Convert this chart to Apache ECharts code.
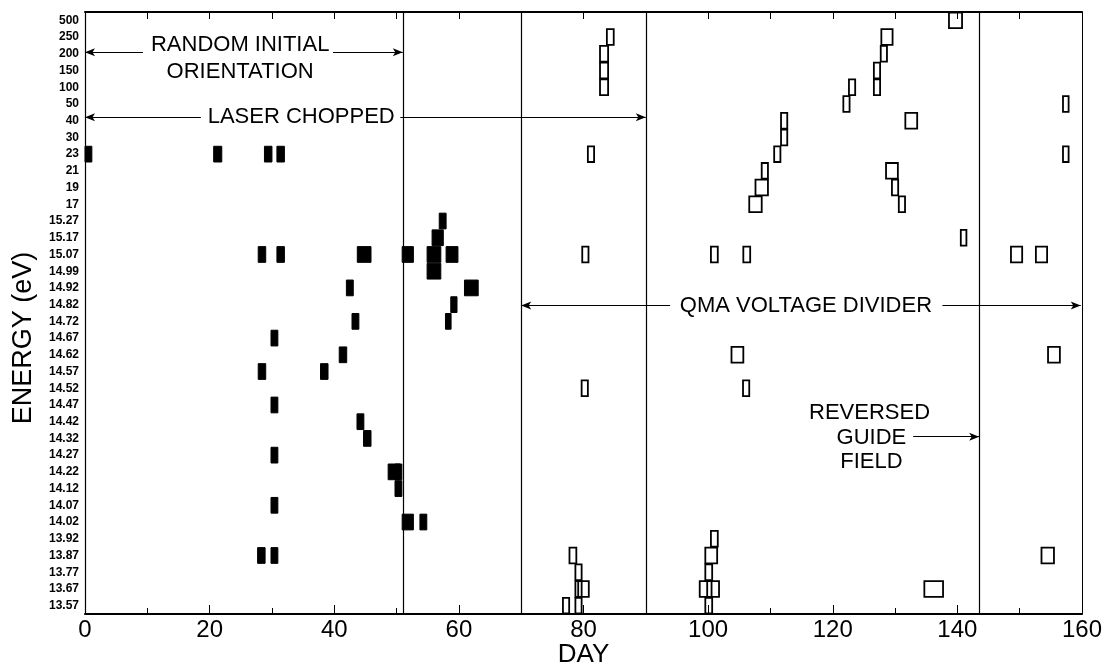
<!DOCTYPE html>
<html>
<head>
<meta charset="utf-8">
<title>Energy vs Day</title>
<script src="https://cdn.jsdelivr.net/npm/echarts@6/dist/echarts.min.js"></script>
<style>
  html, body { margin: 0; padding: 0; background: #fff; }
  #main { width: 1106px; height: 665px; }
</style>
</head>
<body>
<div id="main"></div>
<script>
// energy levels, bottom to top (category axis)
const energyLabels = [
  '13.57', '13.67', '13.77', '13.87', '13.92', '14.02', '14.07', '14.12', '14.22',
  '14.27', '14.32', '14.42', '14.47', '14.52', '14.57', '14.62', '14.67', '14.72',
  '14.82', '14.92', '14.99', '15.07', '15.17', '15.27', '17', '19', '21', '23',
  '30', '40', '50', '100', '150', '200', '250', '500'
];

// [day, energy, width in days]
const filledBoxes = [
  [0.55, '23', 1.1], [21.3, '23', 1.3], [29.4, '23', 1.2], [31.4, '23', 1.2],
  [28.4, '15.07', 1.2], [31.4, '15.07', 1.2], [44.8, '15.07', 2.2], [51.8, '15.07', 1.8],
  [56.0, '15.07', 2.2], [56.0, '14.99', 2.2], [58.9, '15.07', 1.9],
  [56.6, '15.17', 1.8], [57.4, '15.27', 1.1],
  [62.0, '14.92', 2.2], [42.5, '14.92', 1.1],
  [59.2, '14.82', 1.0], [43.4, '14.72', 1.1], [58.3, '14.72', 0.9],
  [30.4, '14.67', 1.1], [41.4, '14.62', 1.2], [28.4, '14.57', 1.2], [38.4, '14.57', 1.2],
  [30.4, '14.47', 1.1], [44.2, '14.42', 1.1], [45.3, '14.32', 1.2], [30.4, '14.27', 1.1],
  [49.6, '14.22', 1.9], [50.3, '14.22', 1.1], [50.3, '14.12', 1.1], [30.4, '14.07', 1.1],
  [51.8, '14.02', 1.8], [54.3, '14.02', 1.1],
  [28.3, '13.87', 1.2], [30.4, '13.87', 1.1]
];

const hollowBoxes = [
  [83.3, '200', 1.3], [83.3, '150', 1.3], [83.3, '100', 1.3], [84.3, '250', 1.1],
  [81.2, '23', 1.0], [80.3, '15.07', 1.0], [80.2, '14.52', 1.0],
  [77.2, '13.57', 1.0], [78.3, '13.87', 1.1],
  [79.2, '13.77', 1.0], [79.2, '13.67', 1.0], [79.2, '13.57', 1.0], [80.0, '13.67', 1.7],
  [101.0, '13.92', 1.1], [100.5, '13.87', 1.9], [100.1, '13.77', 1.1],
  [99.6, '13.67', 1.9], [100.8, '13.67', 1.9], [100.1, '13.57', 1.1],
  [101.0, '15.07', 1.1], [106.2, '15.07', 1.1], [104.7, '14.62', 1.9], [106.1, '14.52', 1.0],
  [107.6, '17', 2.0], [108.6, '19', 2.0], [109.1, '21', 1.0], [111.1, '23', 1.0],
  [112.2, '30', 1.0], [112.2, '40', 1.0],
  [122.2, '50', 1.0], [123.1, '100', 1.0], [127.1, '100', 1.0], [127.1, '150', 1.0],
  [128.2, '200', 1.0], [128.7, '250', 1.8], [139.7, '500', 2.1], [132.6, '40', 1.9],
  [129.5, '21', 1.9], [130.0, '19', 1.0], [131.1, '17', 1.0],
  [141.0, '15.17', 0.9], [149.5, '15.07', 1.8], [153.5, '15.07', 1.8],
  [157.4, '50', 0.9], [157.4, '23', 0.9], [155.5, '14.62', 1.9],
  [154.5, '13.87', 2.0], [136.2, '13.67', 3.0]
];

// vertical phase markers (day)
const phaseDays = [51, 70, 90, 143.5];

// annotation arrows: [fromDay, toDay, level] (level in category units)
const arrows = [
  [9.3, 0, 33.1], [39.8, 51, 33.1],
  [18.6, 0, 29.2], [50.6, 90, 29.2],
  [93.9, 70, 17.95], [137.6, 159.8, 17.95],
  [132.9, 143.5, 10.1]
];

// annotation texts: [day, level, text]
const notes = [
  [24.9, 33.55, 'RANDOM INITIAL'],
  [24.9, 31.9, 'ORIENTATION'],
  [34.7, 29.2, 'LASER CHOPPED'],
  [115.7, 17.95, 'QMA VOLTAGE DIVIDER'],
  [125.9, 11.5, 'REVERSED'],
  [126.2, 10.0, 'GUIDE'],
  [126.2, 8.62, 'FIELD']
];

const FONT = "'Liberation Sans', Arial, sans-serif";

const toData = list => list.map(b => [b[0], energyLabels.indexOf(b[1]), b[2]]);

const boxRenderer = filled => (params, api) => {
  const c = api.coord([api.value(0), api.value(1)]);
  const s = api.size([api.value(2), 1], [api.value(0), api.value(1)]);
  const h = s[1] - 1;
  return {
    type: 'rect',
    shape: { x: c[0] - s[0] / 2, y: c[1] - h / 2, width: s[0], height: h },
    style: filled
      ? { fill: '#000', stroke: '#000', lineWidth: 1 }
      : { fill: 'none', stroke: '#000', lineWidth: 1.8 }
  };
};

const chart = echarts.init(document.getElementById('main'));

const option = {
  animation: false,
  backgroundColor: '#fff',
  grid: { left: 85, right: 24, top: 12, bottom: 51, outerBoundsMode: 'none' },
  graphic: [{
    type: 'text',
    x: 24,
    y: 338,
    rotation: Math.PI / 2,
    style: {
      text: 'ENERGY (eV)',
      font: '27px ' + FONT,
      fill: '#000',
      align: 'center',
      verticalAlign: 'middle'
    }
  }],
  xAxis: [
    {
      type: 'value',
      position: 'bottom',
      min: 0,
      max: 160,
      interval: 20,
      name: 'DAY',
      nameLocation: 'middle',
      nameGap: 28,
      nameMoveOverlap: false,
      nameTextStyle: { fontFamily: FONT, fontSize: 26, color: '#000' },
      axisLine: { onZero: false, lineStyle: { color: '#000', width: 2 } },
      axisTick: { inside: true, length: 9, lineStyle: { color: '#000' } },
      minorTick: { show: true, splitNumber: 2, length: 6, lineStyle: { color: '#000' } },
      axisLabel: { fontFamily: FONT, fontSize: 24, color: '#000', margin: 4 },
      splitLine: { show: false }
    },
    {
      type: 'value',
      position: 'top',
      min: 0,
      max: 160,
      interval: 10,
      axisLine: { onZero: false, lineStyle: { color: '#000', width: 2 } },
      axisTick: { inside: true, length: 7, lineStyle: { color: '#000' } },
      axisLabel: { show: false },
      splitLine: { show: false }
    }
  ],
  yAxis: [
    {
      type: 'category',
      position: 'left',
      data: energyLabels,
      axisLine: { onZero: false, lineStyle: { color: '#000', width: 1.2 } },
      axisTick: { inside: true, length: 5, lineStyle: { color: '#000' } },
      axisLabel: {
        interval: 0,
        fontFamily: FONT,
        fontSize: 12,
        fontWeight: 'bold',
        color: '#000',
        margin: 6
      },
      splitLine: { show: false }
    },
    {
      type: 'category',
      position: 'right',
      data: energyLabels,
      axisLine: { onZero: false, lineStyle: { color: '#000', width: 1 } },
      axisTick: { inside: true, length: 6, lineStyle: { color: '#000' } },
      axisLabel: { show: false },
      splitLine: { show: false }
    },
    {
      type: 'value',
      show: false,
      min: -0.5,
      max: 35.5
    }
  ],
  series: [
    {
      name: 'chopped',
      type: 'custom',
      xAxisIndex: 0,
      yAxisIndex: 0,
      renderItem: boxRenderer(true),
      encode: { x: 0, y: 1 },
      data: toData(filledBoxes)
    },
    {
      name: 'later',
      type: 'custom',
      xAxisIndex: 0,
      yAxisIndex: 0,
      renderItem: boxRenderer(false),
      encode: { x: 0, y: 1 },
      data: toData(hollowBoxes)
    },
    {
      name: 'notes',
      type: 'scatter',
      xAxisIndex: 0,
      yAxisIndex: 2,
      data: [],
      silent: true,
      markLine: {
        silent: true,
        animation: false,
        symbol: ['none', 'none'],
        label: { show: false },
        lineStyle: { color: '#000', width: 1.2, type: 'solid' },
        data: [
          ...phaseDays.map(d => ({ xAxis: d })),
          ...arrows.map(a => [
            { coord: [a[0], a[2]], symbol: 'none' },
            { coord: [a[1], a[2]], symbol: 'arrow', symbolSize: [6, 10] }
          ])
        ]
      },
      markPoint: {
        silent: true,
        animation: false,
        symbol: 'circle',
        symbolSize: 0,
        label: {
          show: true,
          position: 'inside',
          fontFamily: FONT,
          fontSize: 22,
          color: '#000',
          formatter: p => p.name
        },
        data: notes.map(n => ({ name: n[2], coord: [n[0], n[1]] }))
      }
    }
  ]
};

chart.setOption(option);
</script>
</body>
</html>
